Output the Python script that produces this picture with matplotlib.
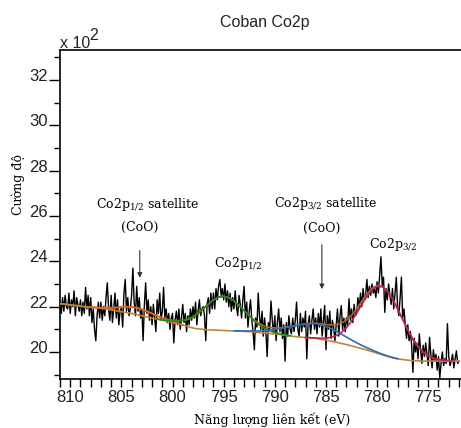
import numpy as np
import matplotlib.pyplot as plt
from matplotlib.transforms import ScaledTranslation

plt.rcParams['font.family'] = 'Liberation Sans'
plt.rcParams['mathtext.fontset'] = 'custom'
plt.rcParams['mathtext.rm'] = 'DejaVu Serif'

# raw Co2p spectrum (x10^2 counts), 811 eV down to 772 eV in 0.125 eV steps
# (one row per eV)
raw_intensity = [
    22.2, 21.7, 22.4, 21.8, 22.5, 22.0, 21.9, 22.6,
    21.7, 22.3, 22.0, 22.7, 21.6, 22.4, 22.1, 21.8,
    22.3, 21.6, 22.2, 21.7, 22.85, 21.9, 22.5, 21.6,
    22.4, 21.3, 21.9, 21.0, 20.5, 21.6, 22.2, 21.5,
    22.2, 21.4, 22.0, 21.6, 22.4, 23.05, 21.9, 21.4,
    22.5, 21.3, 21.9, 22.6, 21.5, 22.3, 21.2, 21.8,
    22.0, 21.1, 22.6, 23.2, 21.8, 22.4, 21.6, 21.9,
    22.5, 23.7, 22.2, 21.6, 22.9, 21.8, 22.4, 21.5,
    21.9, 20.5, 22.1, 23.05, 21.7, 22.3, 21.4, 22.0,
    21.2, 22.1, 21.5, 20.9, 22.3, 21.7, 22.6, 21.4,
    21.8, 22.85, 21.5, 21.9, 21.3, 21.7, 21.0, 21.5,
    21.7, 20.4, 21.4, 21.8, 21.2, 21.9, 21.0, 21.5,
    22.1, 21.3, 21.7, 20.9, 21.6, 21.2, 21.9, 21.4,
    22.0, 21.5, 22.2, 21.2, 21.8, 22.3, 21.6, 21.9,
    22.0, 21.6, 20.5, 22.1, 22.4, 21.7, 22.6, 21.9,
    22.6, 21.9, 22.8, 22.3, 22.9, 23.2, 22.5, 22.8,
    22.3, 23.0, 22.2, 22.7, 22.0, 22.6, 21.8, 22.4,
    21.9, 22.7, 22.0, 21.6, 22.5, 22.1, 21.5, 22.3,
    22.9, 21.5, 22.2, 21.1, 21.8, 22.3, 21.4, 20.9,
    20.1, 21.5, 21.1, 22.6, 21.6, 21.0, 21.8, 20.7,
    21.5, 20.9, 19.8, 21.3, 21.0, 22.25, 21.4, 20.8,
    21.6, 20.5, 21.3, 21.9, 20.9, 21.5, 20.6, 21.2,
    19.6, 21.3, 20.7, 21.6, 21.0, 20.8, 21.5, 20.9,
    21.4, 22.2, 21.0, 20.7, 21.7, 20.9, 21.5, 21.1,
    21.8, 19.7, 21.2, 21.6, 20.8, 21.4, 21.9, 21.0,
    21.5, 20.8, 21.7, 21.1, 21.9, 20.7, 21.4, 22.05,
    20.1, 21.6, 21.0, 21.8, 20.6, 21.4, 21.1, 20.5,
    21.2, 21.9, 20.7, 21.6, 22.05, 21.0, 21.5, 20.9,
    21.5, 21.2, 22.35, 21.4, 21.9, 21.3, 22.1, 21.6,
    21.7, 22.4, 21.9, 22.6, 22.0, 22.8, 22.3, 22.5,
    23.2, 22.4, 22.9, 22.5, 23.0, 22.6, 22.8, 22.4,
    23.1, 22.6, 23.4, 24.2, 22.9, 23.3, 21.75, 22.8,
    22.3, 23.0, 22.5, 22.1, 22.8, 21.9, 22.6, 23.3,
    22.0, 21.6, 22.4, 23.3, 21.5, 21.9, 21.2, 20.6,
    21.2, 20.5, 20.9, 20.3, 19.1, 20.6, 20.0, 20.4,
    19.7, 20.8, 20.1, 19.5, 20.3, 19.8, 20.4, 19.9,
    19.4, 20.65, 19.9, 19.3, 20.1, 19.6, 19.9, 19.2,
    19.8, 18.85, 19.5, 20.0, 19.4, 19.7, 19.5, 21.25,
    19.8, 19.4, 19.6, 19.9, 19.3, 19.7, 20.05, 19.5,
    19.6,
]
raw_energy = 811 - 0.125 * np.arange(len(raw_intensity))

# Shirley background, 811 -> 772 eV in 0.5 eV steps
baseline = [
    22.13, 22.11, 22.08, 22.05, 22.02, 21.99, 21.97, 21.95, 21.93, 21.90,
    21.86, 21.82, 21.78, 21.74, 21.70, 21.65, 21.60, 21.55, 21.50, 21.45,
    21.40, 21.35, 21.30, 21.25, 21.19, 21.12, 21.06, 21.02, 21.00, 20.98,
    20.97, 20.96, 20.95, 20.94, 20.93, 20.92, 20.91, 20.90, 20.88, 20.86,
    20.84, 20.82, 20.80, 20.77, 20.74, 20.71, 20.68, 20.66, 20.64, 20.62,
    20.60, 20.56, 20.52, 20.48, 20.43, 20.38, 20.33, 20.27, 20.21, 20.15,
    20.09, 20.02, 19.95, 19.88, 19.81, 19.75, 19.70, 19.67, 19.64, 19.62,
    19.61, 19.60, 19.60, 19.60, 19.60, 19.60, 19.60, 19.60, 19.60,
]
fit_energy = 811 - 0.5 * np.arange(len(baseline))

# fitted peaks: Co2p1/2 sat, Co2p1/2, Co2p3/2 sat, Co2p3/2
peak_centers = [803.5, 795.0, 786.0, 779.6]
peak_heights = [0.30, 1.50, 0.65, 3.00]
peak_fwhm = [3.8, 4.7, 6.1, 4.8]
peak_colors = ['#e8641e', '#1e8c1e', '#2a6db5', '#b8205e']

bg = np.array(baseline)
components = []
for c, h, w in zip(peak_centers, peak_heights, peak_fwhm):
    s = w / 2.3548
    components.append(h * np.exp(-(fit_energy - c) ** 2 / (2 * s ** 2)))
envelope = bg + np.sum(components, axis=0)

fig = plt.figure(figsize=(4.61, 4.28), dpi=100)
ax = fig.add_axes([60 / 461, 49 / 428, 401 / 461, 329 / 428])

ax.plot(raw_energy, raw_intensity, color='black', lw=1.0, zorder=2)
ax.plot(fit_energy, envelope, color='#a8682a', lw=1.2, zorder=3)
ax.plot(fit_energy, bg, color='#c0843e', lw=1.2, zorder=3)
for comp, col in zip(components, peak_colors):
    on = comp > 0.004
    ax.plot(fit_energy[on], (bg + comp)[on], color=col, lw=1.2, zorder=4)

ax.set_xlim(811, 771.8)
ax.set_ylim(18.81, 33.32)
ax.set_xticks(np.arange(810, 771, -5))
ax.set_xticks(np.arange(811, 771, -1), minor=True)
ax.set_yticks(np.arange(20, 33, 2))
ax.set_yticks(np.arange(19, 34, 1), minor=True)
ax.tick_params(axis='x', which='both', direction='out', length=6, width=1,
               labelsize=12, pad=2, labelcolor='#222222')
ax.tick_params(axis='y', which='major', direction='out', length=8, width=1,
               labelsize=12, pad=1, labelcolor='#222222')
ax.tick_params(axis='y', which='minor', direction='out', length=4, width=1)
ax.spines['right'].set_visible(False)
for sp in ['left', 'bottom', 'top']:
    ax.spines[sp].set_linewidth(1.2)

# y labels sit a little above their tick, as in the original
shift = ScaledTranslation(0, 5 / 100, fig.dpi_scale_trans)
for t in ax.yaxis.get_major_ticks():
    t.label1.set_transform(t.label1.get_transform() + shift)

serif = 'DejaVu Serif'
ax.text(802.4, 26.5, r'Co2p$_{\mathrm{1/2}}$ satellite', family=serif, fontsize=9,
        ha='center', va='center')
ax.text(803.2, 25.5, '(CoO)', family=serif, fontsize=9, ha='center', va='center')
ax.annotate('', xy=(803.2, 23.15), xytext=(803.2, 24.6),
            arrowprops=dict(arrowstyle='-|>', color='#333333', lw=0.8, mutation_scale=7))
ax.text(785.0, 26.55, r'Co2p$_{\mathrm{3/2}}$ satellite', family=serif, fontsize=9,
        ha='center', va='center')
ax.text(785.4, 25.45, '(CoO)', family=serif, fontsize=9, ha='center', va='center')
ax.annotate('', xy=(785.4, 22.65), xytext=(785.4, 24.85),
            arrowprops=dict(arrowstyle='-|>', color='#333333', lw=0.8, mutation_scale=7))
ax.text(793.6, 23.9, r'Co2p$_{\mathrm{1/2}}$', family=serif, fontsize=9,
        ha='center', va='center')
ax.text(778.4, 24.75, r'Co2p$_{\mathrm{3/2}}$', family=serif, fontsize=9,
        ha='center', va='center')

fig.text(265 / 461, 1 - 22 / 428, 'Coban Co2p', fontsize=11.5, ha='center',
         va='center', color='#222222')
fig.text(60 / 461, 1 - 48 / 428, 'x 10', fontsize=11.5, ha='left',
         va='baseline', color='#222222')
fig.text(89 / 461, 1 - 40 / 428, '2', fontsize=11.5, ha='left',
         va='baseline', color='#222222')
fig.text(18 / 461, 1 - 184 / 428, 'Cường độ', family=serif, fontsize=9,
         rotation=90, ha='center', va='center')
fig.text(272 / 461, 1 - 420 / 428, 'Năng lượng liên kết (eV)', family=serif,
         fontsize=9, ha='center', va='center')

fig.savefig('out.png', dpi=100)
